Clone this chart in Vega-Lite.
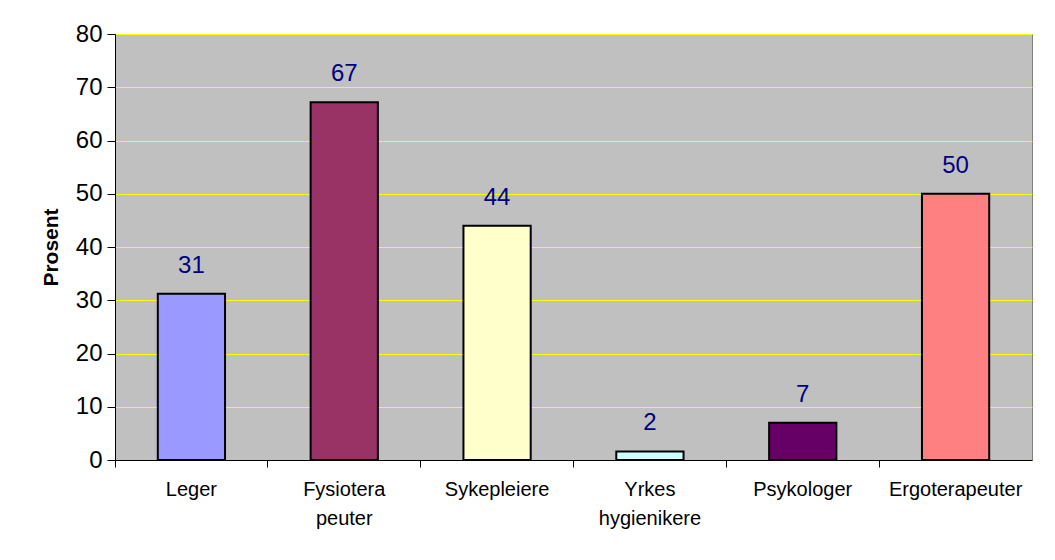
{
  "$schema": "https://vega.github.io/schema/vega-lite/v6.json",
  "width": 917,
  "height": 426,
  "autosize": {"type": "none"},
  "padding": {"left": 115, "top": 34, "right": 23, "bottom": 100},
  "background": "white",
  "config": {
    "font": "Liberation Sans",
    "view": {"fill": "#C0C0C0", "stroke": "#808080", "strokeWidth": 1}
  },
  "data": {
    "values": [
      {"yrke": "Leger", "prosent": 31.2, "farge": "#9999FF"},
      {"yrke": "Fysiotera|peuter", "prosent": 67.2, "farge": "#993366"},
      {"yrke": "Sykepleiere", "prosent": 44.0, "farge": "#FFFFCC"},
      {"yrke": "Yrkes|hygienikere", "prosent": 1.6, "farge": "#CCFFFF"},
      {"yrke": "Psykologer", "prosent": 7.0, "farge": "#660066"},
      {"yrke": "Ergoterapeuter", "prosent": 50.0, "farge": "#FF8080"}
    ]
  },
  "encoding": {
    "x": {
      "field": "yrke",
      "type": "nominal",
      "sort": null,
      "scale": {"paddingInner": 0, "paddingOuter": 0},
      "axis": {
        "title": null,
        "labelAngle": 0,
        "labelExpr": "split(datum.value, '|')",
        "labelFont": "Liberation Sans",
        "labelFontSize": 20,
        "labelColor": "black",
        "labelPadding": 12,
        "labelLineHeight": 29,
        "labelBaseline": "top",
        "bandPosition": 0,
        "ticks": true,
        "tickSize": 7,
        "tickColor": "#000000",
        "domainColor": "#000000",
        "grid": false
      }
    },
    "y": {
      "field": "prosent",
      "type": "quantitative",
      "scale": {"domain": [0, 80], "nice": false},
      "axis": {
        "title": "Prosent",
        "titleFont": "Liberation Sans",
        "titleFontSize": 21,
        "titleFontWeight": "bold",
        "titleColor": "black",
        "titlePadding": 14,
        "values": [0, 10, 20, 30, 40, 50, 60, 70, 80],
        "labelFont": "Liberation Sans",
        "labelFontSize": 24,
        "labelColor": "black",
        "labelPadding": 5,
        "tickSize": 8,
        "tickColor": "#000000",
        "domainColor": "#000000",
        "grid": true,
        "gridColor": "#FFFF00",
        "gridWidth": 1,
        "gridOpacity": 1
      }
    }
  },
  "layer": [
    {
      "mark": {"type": "bar", "width": {"band": 0.44}, "stroke": "black", "strokeWidth": 2},
      "encoding": {
        "color": {"field": "farge", "type": "nominal", "scale": null}
      }
    },
    {
      "mark": {"type": "text", "baseline": "alphabetic", "dy": -21, "fontSize": 24, "color": "#000080", "font": "Liberation Sans"},
      "encoding": {
        "text": {"field": "prosent", "type": "quantitative", "format": ".0f"}
      }
    }
  ]
}
